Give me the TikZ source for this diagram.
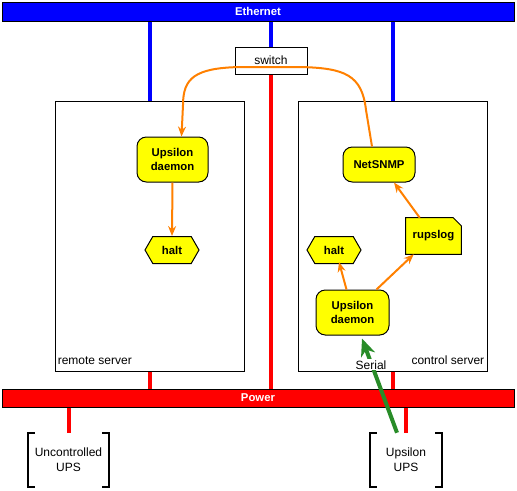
\documentclass[tikz,border=0pt]{standalone}
\usepackage{fontspec}
\setmainfont{Liberation Sans}
\usetikzlibrary{arrows.meta,calc,shapes.symbols,backgrounds}
\definecolor{eblue}{RGB}{0,0,255}
\definecolor{pred}{RGB}{255,0,0}
\definecolor{nyellow}{RGB}{255,255,0}
\definecolor{oline}{RGB}{255,128,0}
\definecolor{gline}{RGB}{40,140,40}
\begin{document}
\begin{tikzpicture}[x=0.75pt,y=-0.75pt,
  bar/.style={draw=black, line width=0.75pt, inner sep=0pt, minimum width=384pt, text=white, font=\fontsize{8.5}{10}\selectfont\bfseries},
  plain/.style={font=\fontsize{9}{11.25}\selectfont},
  swbox/.style={plain, draw=black, line width=0.75pt, fill=white, inner sep=0pt, minimum width=54pt, minimum height=20.25pt},
  srv/.style={draw=black, line width=0.75pt, inner sep=0pt, minimum width=141.75pt, minimum height=202.5pt},
  bfont/.style={font=\fontsize{8.5}{11}\selectfont\bfseries},
  proc/.style={bfont, draw=black, line width=0.75pt, fill=nyellow, rounded corners=7pt, align=center, inner sep=0pt},
  hexa/.style={bfont, shape=signal, signal to=west and east, signal pointer angle=120, draw=black, line width=0.75pt, fill=nyellow, inner sep=0pt, minimum width=40.5pt, minimum height=20.25pt},
  notebox/.style={bfont, inner sep=0pt, minimum width=41.25pt, minimum height=27pt},
  ups/.style={plain, align=center, inner sep=0pt, minimum width=60.75pt, minimum height=40.5pt},
  brk/.style={draw=black, line width=1.5pt},
  eline/.style={draw=eblue, line width=3pt},
  pline/.style={draw=pred, line width=3pt},
  oarr/.style={draw=oline, line width=1.5pt, -{Stealth[length=7.5pt,width=6pt,inset=2.5pt]}},
  garr/.style={draw=gline, line width=3pt, -{Stealth[length=13pt,width=11pt,inset=4pt]}}
]
\useasboundingbox (0,0) rectangle (517,490);

% bars
\node[bar, fill=eblue, minimum height=14.25pt] (eth) at (258,11.5) {Ethernet};
\node[bar, fill=pred, minimum height=13.5pt] (pow) at (258,398) {Power};

% servers, switch, UPS
\node[srv] (rs) at (149.5,236) {};
\node[srv] (cs) at (392.5,236) {};
\node[swbox] (sw) at (271,60.5) {switch};
\node[ups] (u1) at (68.5,460) {Uncontrolled\\UPS};
\node[ups, minimum width=54pt] (u2) at (406,460) {Upsilon\\UPS};

\node[plain, anchor=base west, inner sep=0pt] (rslab) at ($(rs.south west)+(3,-7)$) {remote server};
\node[plain, anchor=base east, inner sep=0pt] (cslab) at ($(cs.south east)+(-3,-7)$) {control server};

% network and power connectors
\draw[eline] (eth.south -| rs.north) -- (rs.north);
\draw[eline] (eth.south -| sw.north) -- (sw.north);
\draw[eline] (eth.south -| cs.north) -- (cs.north);
\draw[pline] (sw.south) -- (pow.north -| sw.south);
\draw[pline] (rs.south) -- (pow.north -| rs.south);
\draw[pline] (cs.south) -- (pow.north -| cs.south);
\draw[pline] (pow.south -| u1.north) -- (u1.north);
\draw[pline] (pow.south -| u2.north) -- (u2.north);

% UPS brackets
\foreach \u in {u1,u2}{
  \draw[brk] ($(\u.north west)+(7,0)$) -- (\u.north west) -- (\u.south west) -- ($(\u.south west)+(7,0)$);
  \draw[brk] ($(\u.north east)+(-7,0)$) -- (\u.north east) -- (\u.south east) -- ($(\u.south east)+(-7,0)$);
}

% remote server contents
\node[proc, minimum width=53.25pt, minimum height=33.75pt] (ud1) at (172.5,159.5) {Upsilon\\daemon};
\node[hexa] (h1) at (172,250) {halt};

% control server contents
\node[proc, minimum width=54pt, minimum height=26.25pt] (net) at (379,164.5) {NetSNMP};
\node[notebox] (rl) at (433.5,236) {rupslog};
\begin{scope}[on background layer]
  \draw[fill=nyellow, line width=0.75pt] (rl.south west) -- (rl.north west) -- ($(rl.north east)+(-8,0)$) -- ($(rl.north east)+(0,8)$) -- (rl.south east) -- cycle;
\end{scope}
\node[hexa] (h2) at (334,250) {halt};
\node[proc, minimum width=54.75pt, minimum height=33.75pt] (ud2) at (352.5,312.5) {Upsilon\\daemon};

% orange flows
\draw[oarr] (ud1.south) -- (h1.north);
\draw[oarr] ($(ud2.north)+(-6,0)$) -- ($(h2.north)+(5,26)$);
\draw[oarr] ($(ud2.north)+(24,0)$) -- ($(rl.south west)+(8,0)$);
\draw[oarr] ($(rl.north west)+(14,0)$) -- ($(net.south)+(15,0)$);
\draw[oarr] ($(net.north)+(-7,0)$) -- (366,110) .. controls (362,75) and (345,68) .. (300,67) -- (240,67) .. controls (195,68) and (183,78) .. (183,105) -- ($(ud1.north)+(9,0)$);

% serial link
\coordinate (gs) at ($(u2.north)+(-9,0)$);
\draw[garr] (gs) -- ($(ud2.south)+(9.5,3)$);
\node[plain, fill=white, inner xsep=3pt, inner ysep=1pt, anchor=base] (ser) at (371,369) {Serial};
\end{tikzpicture}
\end{document}
